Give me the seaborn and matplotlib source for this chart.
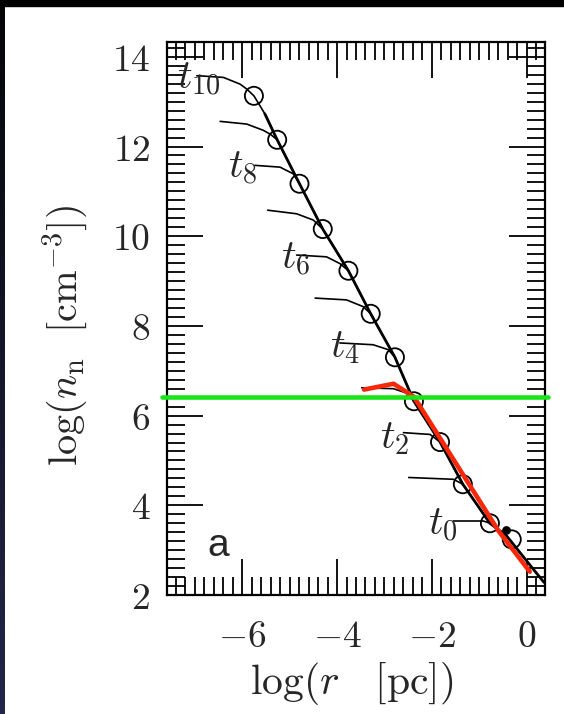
import numpy as np
import pandas as pd
import matplotlib
matplotlib.use("Agg")
import matplotlib.pyplot as plt
from matplotlib.patches import Rectangle
from matplotlib.ticker import MultipleLocator
import seaborn as sns

# ---------------- data ----------------
curve_names = ["t10", "t9", "t8", "t7", "t6", "t5", "t4", "t3", "t2", "t1", "t0"]
curve_x = {
    "t10": [-6.95, -6.39, -6.04, -5.90, -5.75, -5.52, -5.26, -4.79, -4.30, -3.76, -3.29,
            -2.78, -2.38, -1.83, -1.35, -0.78, -0.43, -0.15, 0.13, 0.36],
    "t9": [-6.46, -5.90, -5.55, -5.40, -5.26],
    "t8": [-5.73, -5.20, -4.92, -4.79],
    "t7": [-5.46, -4.85, -4.50, -4.30],
    "t6": [-4.85, -4.22, -3.94, -3.76],
    "t5": [-4.46, -3.80, -3.45, -3.29],
    "t4": [-3.94, -3.24, -2.92, -2.78],
    "t3": [-3.48, -2.81, -2.53, -2.38],
    "t2": [-2.60, -2.04, -1.83],
    "t1": [-2.49, -1.55, -1.35],
    "t0": [-1.55, -0.92, -0.78],
}
curve_y = {
    "t10": [13.58, 13.54, 13.39, 13.28, 13.13, 12.73, 12.15, 11.17, 10.16, 9.23, 8.27,
            7.30, 6.32, 5.41, 4.47, 3.60, 3.32, 2.95, 2.58, 2.28],
    "t9": [12.56, 12.50, 12.36, 12.27, 12.15],
    "t8": [11.58, 11.54, 11.39, 11.17],
    "t7": [10.58, 10.50, 10.36, 10.16],
    "t6": [9.58, 9.54, 9.39, 9.23],
    "t5": [8.62, 8.58, 8.43, 8.27],
    "t4": [7.62, 7.58, 7.47, 7.30],
    "t3": [6.62, 6.60, 6.50, 6.32],
    "t2": [5.62, 5.58, 5.41],
    "t1": [4.62, 4.58, 4.47],
    "t0": [3.65, 3.65, 3.60],
}
circle_x = [-5.75, -5.26, -4.79, -4.30, -3.76, -3.29, -2.78, -2.38, -1.83, -1.35, -0.78, -0.32]
circle_y = [13.13, 12.15, 11.17, 10.16, 9.23, 8.27, 7.30, 6.32, 5.41, 4.47, 3.60, 3.24]
dot_x = [-0.45]
dot_y = [3.45]

red_x = [-3.43, -2.81, -2.38, -0.60, 0.06]
red_y = [6.58, 6.71, 6.42, 3.43, 2.52]
green_level = 6.41

label_texts = [r"$t_{10}$", r"$t_{8}$", r"$t_{6}$", r"$t_{4}$", r"$t_{2}$", r"$t_{0}$"]
label_x = [-6.90, -5.98, -4.88, -3.83, -2.78, -1.77]
label_y = [13.51, 11.52, 9.49, 7.51, 5.50, 3.56]

xticks = [-6, -4, -2, 0]
xticklabels = [r"$-6$", r"$-4$", r"$-2$", r"$0$"]
yticks = [2, 4, 6, 8, 10, 12, 14]
yticklabels = [r"$2$", r"$4$", r"$6$", r"$8$", r"$10$", r"$12$", r"$14$"]

# ---------------- styling ----------------
sns.set_style("ticks")
plt.rcParams["mathtext.fontset"] = "cm"
plt.rcParams["font.family"] = ["DejaVu Serif"]

W, H = 564, 714
fig = plt.figure(figsize=(W / 100, H / 100), dpi=100, facecolor="white")

# dark border bands of the screenshot
band = fig.add_axes([0, 0, 5 / W, 1])
grad = np.linspace(0, 1, 256).reshape(-1, 1)
cols = np.zeros((256, 1, 3))
cols[:, 0, 0] = 0.02 + 0.12 * grad[:, 0]
cols[:, 0, 1] = 0.02 + 0.13 * grad[:, 0]
cols[:, 0, 2] = 0.03 + 0.26 * grad[:, 0]
band.imshow(cols, aspect="auto", origin="upper")
band.set_axis_off()
fig.patches.append(Rectangle((0, 1 - 6 / H), 1, 6 / H, transform=fig.transFigure,
                             color="black", zorder=10))

ax = fig.add_axes([167 / W, 1 - 595 / H, (545 - 167) / W, (595 - 42) / H])
ax.set_facecolor("white")

rows = []
for name in curve_names:
    for xv, yv in zip(curve_x[name], curve_y[name]):
        rows.append({"x": xv, "y": yv, "curve": name})
df = pd.DataFrame(rows)
sns.lineplot(data=df, x="x", y="y", units="curve", estimator=None, sort=False,
             color="black", linewidth=1.2, ax=ax, legend=False)
# the common envelope is drawn heavier in the original
env = df[df["curve"] == "t10"]
ax.plot(env["x"].values[5:], env["y"].values[5:], color="black", linewidth=2.0, zorder=2)

sns.scatterplot(x=circle_x, y=circle_y, s=170, facecolor="none", edgecolor="black",
                linewidth=1.3, marker="o", ax=ax, zorder=3)
sns.scatterplot(x=dot_x, y=dot_y, s=40, color="black", linewidth=0, ax=ax, zorder=3)

sns.lineplot(x=red_x, y=red_y, sort=False, color="#f5280a", linewidth=3.3, ax=ax, zorder=5)
ax.axhline(green_level, xmin=-0.012, xmax=1.008, color="#19e619", linewidth=3.3,
           clip_on=False, zorder=6)

for t, xv, yv in zip(label_texts, label_x, label_y):
    ax.text(xv, yv, t, fontsize=29, ha="center", va="center", zorder=4)
ax.text(-6.5, 3.09, "a", fontsize=28, family="Liberation Sans", ha="center", va="center")

ax.set_xlim(-7.58, 0.38)
ax.set_ylim(2.03, 14.33)
ax.set_xticks(xticks)
ax.set_xticklabels(xticklabels, fontsize=27)
ax.set_yticks(yticks)
ax.set_yticklabels(yticklabels, fontsize=27)
ax.xaxis.set_minor_locator(MultipleLocator(0.2))
ax.yaxis.set_minor_locator(MultipleLocator(0.2))
ax.tick_params(which="both", direction="in", top=True, right=True, color="black", width=1.3)
ax.tick_params(which="major", length=26)
ax.tick_params(which="minor", length=13)
ax.tick_params(axis="x", which="major", pad=17)
ax.tick_params(axis="y", which="major", pad=12)
for sp in ax.spines.values():
    sp.set_linewidth(1.6)
    sp.set_color("black")

ax.set_xlabel(r"$\log(r\ \ \ [\mathrm{pc}])$", fontsize=30)
ax.set_ylabel(r"$\log(n_{\mathrm{n}}\ \ [\mathrm{cm}^{-3}])$", fontsize=29)
ax.xaxis.set_label_coords(0.49, -0.118)
ax.yaxis.set_label_coords(-0.205, 0.47)

fig.savefig("out.png", dpi=100, facecolor="white")
